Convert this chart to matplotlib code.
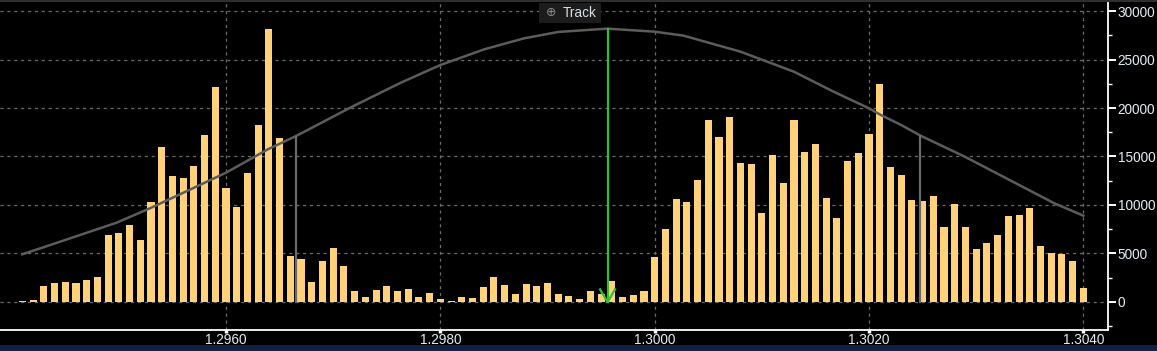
import numpy as np
import matplotlib
matplotlib.use("Agg")
import matplotlib.pyplot as plt
from matplotlib.ticker import MultipleLocator, FixedLocator

plt.rcParams['font.family'] = ['Liberation Sans', 'DejaVu Sans']

# price levels (one bar per pip) and volume at each level
prices = np.round(np.arange(1.2941, 1.30405, 0.0001), 4)
volumes = [
    140, 240, 1600, 2000, 2100, 2000, 2300, 2550, 6930, 7140,
    7960, 6420, 10330, 16030, 13010, 12800, 14040, 17230, 22180, 11770,
    9820, 13320, 18260, 28150, 16920, 4770, 4460, 2090, 4260, 5600,
    3740, 1170, 550, 1270, 1680, 1170, 1370, 550, 960, 340,
    140, 550, 450, 1580, 2610, 1790, 860, 1890, 1680, 1990,
    860, 650, 340, 1170, 860, 2200, 550, 750, 1170, 4670,
    7550, 10640, 10330, 12600, 18780, 17030, 19090, 14350, 14250, 9200,
    15170, 12290, 18780, 15480, 16310, 10740, 8690, 14560, 15380, 17340,
    22490, 13940, 13110, 10540, 10440, 10950, 7760, 10130, 7760, 5490,
    6110, 6930, 8890, 8990, 9720, 5800, 5080, 4980, 4260, 1480,
]

# fitted distribution curve
curve_x = [1.2941, 1.29448, 1.29498, 1.29529, 1.29569, 1.2960, 1.29639, 1.29664,
           1.29669, 1.29719, 1.29763, 1.2980, 1.29841, 1.29878, 1.2991, 1.2995,
           1.29956, 1.3000, 1.30027, 1.3008, 1.3013, 1.30167, 1.3020, 1.30211,
           1.3023, 1.30248, 1.30289, 1.30329, 1.30373, 1.3040]
curve_y = [4920, 6320, 8180, 9660, 11720, 13330, 15740, 17040,
           17320, 20210, 22600, 24430, 26050, 27180, 27840, 28140,
           28180, 27870, 27460, 25810, 23740, 21680, 19970, 19280,
           18250, 17150, 15000, 12700, 10170, 8900]

# markers
band_lo, band_hi = 1.29665, 1.30248
band_lo_y, band_hi_y = 17050, 17150
track_price = 1.29956
track_top = 28180

x_ticks = [1.2960, 1.2980, 1.3000, 1.3020, 1.3040]
y_ticks = [0, 5000, 10000, 15000, 20000, 25000, 30000]

W, H = 1157, 351
fig = plt.figure(figsize=(W / 100, H / 100), dpi=100, facecolor="#000000")
ax = fig.add_axes([0, (H - 330) / H, 1108 / W, 327 / H], facecolor="#000000")

ax.set_xlim(1.293891, 1.30423)
ax.set_ylim(-2887, 30825)

# grid
for v in y_ticks:
    ax.axhline(v, color="#6a6a6a", lw=0.9, ls=(0, (2.5, 3)), zorder=0)
for v in x_ticks:
    ax.axvline(v, color="#6a6a6a", lw=0.9, ls=(0, (2.5, 3)), zorder=0)

ax.bar(prices, volumes, width=0.000066, color="#ffd27a", zorder=2)
ax.plot(curve_x, curve_y, color="#5c5c5c", lw=1.8, zorder=3)
ax.plot([band_lo, band_lo], [0, band_lo_y], color="#6a6a6a", lw=1.6, zorder=3)
ax.plot([band_hi, band_hi], [0, band_hi_y], color="#6a6a6a", lw=1.6, zorder=3)

# green track arrow
green = "#2fc02f"
ax.plot([track_price, track_price], [0, track_top], color=green, lw=1.6, zorder=4)
ax.plot([track_price - 0.00007, track_price, track_price + 0.00007],
        [1300, 0, 1300], color=green, lw=1.6, zorder=4)

# axes styling
for s in ["top", "left"]:
    ax.spines[s].set_visible(False)
ax.spines["bottom"].set_color("white")
ax.spines["right"].set_color("white")
ax.spines["bottom"].set_linewidth(1.3)
ax.spines["right"].set_linewidth(1.3)

ax.yaxis.tick_right()
ax.yaxis.set_major_locator(FixedLocator(y_ticks))
ax.yaxis.set_minor_locator(MultipleLocator(2500))
ax.set_yticklabels([str(v) for v in y_ticks])
ax.tick_params(axis="y", which="major", colors="white", length=6, width=1.4,
               labelsize=9.8, labelcolor="#e4ecf5", pad=1)
ax.tick_params(axis="y", which="minor", colors="white", length=3, width=1)

ax.xaxis.set_major_locator(FixedLocator(x_ticks))
ax.set_xticklabels(["%.4f" % v for v in x_ticks])
ax.tick_params(axis="x", colors="white", length=2, width=2.5,
               labelsize=9.8, labelcolor="#e4ecf5", pad=0.5)

# top border and bottom strip
fig.add_artist(plt.Rectangle((0, (H - 2) / H), 1, 2 / H, transform=fig.transFigure,
                             color="#2e2e2e", lw=0))
fig.add_artist(plt.Rectangle((0, 0), 1, 6 / H, transform=fig.transFigure,
                             color="#0b2145", lw=0))

# Track button
fig.add_artist(plt.Rectangle((539 / W, (H - 23) / H), 62 / W, 20 / H,
                             transform=fig.transFigure, color="#1c1c1c", lw=0, zorder=5))
fig.text(551 / W, (H - 13) / H, "\u2295", color="#8a8a8a", fontsize=9,
         ha="center", va="center", family="DejaVu Sans", zorder=6)
fig.text(563 / W, (H - 13) / H, "Track", color="#d8dee6", fontsize=9.8,
         ha="left", va="center", zorder=6)

fig.savefig("out.png", dpi=100, facecolor=fig.get_facecolor())
